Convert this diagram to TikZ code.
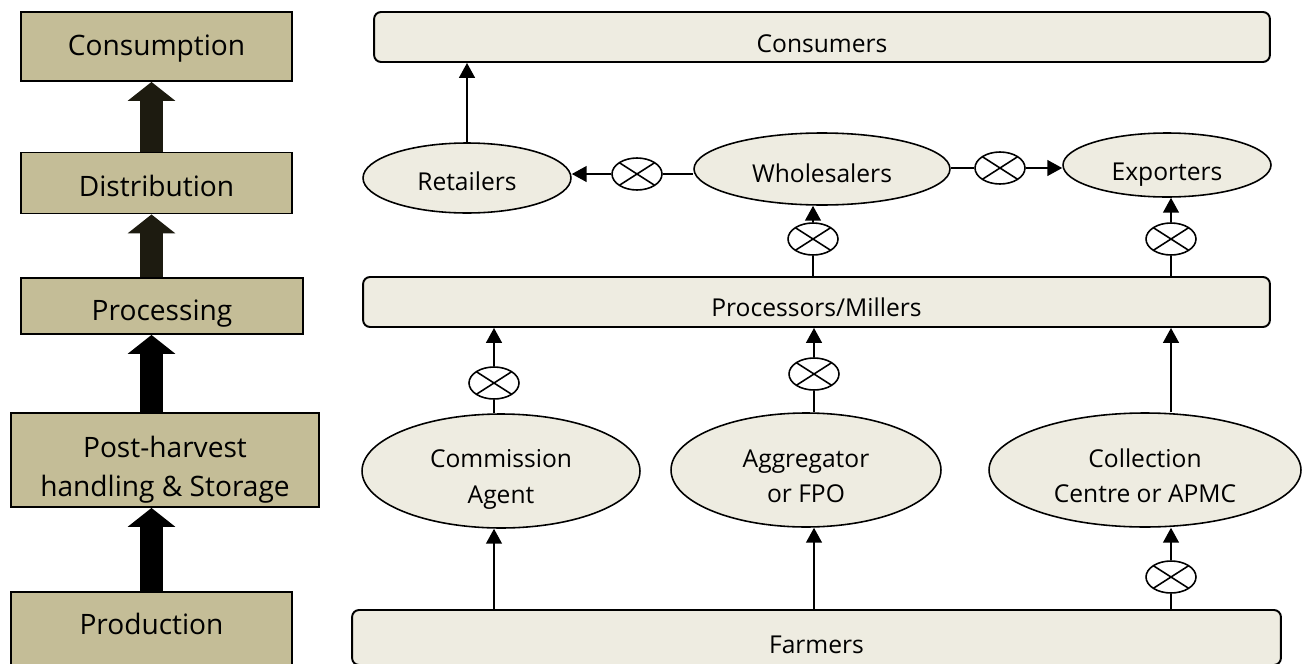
\documentclass[tikz,border=0pt]{standalone}
\usepackage{fontspec}
\setmainfont{Open Sans}
\usetikzlibrary{arrows.meta,shapes.geometric}

\definecolor{tan}{HTML}{C4BD97}
\definecolor{pale}{HTML}{EEECE1}
\definecolor{darkarr}{HTML}{1D1B10}

% две строки, опорная линия по нижней
\newcommand{\twoln}[2]{\begin{tabular}[b]{@{}c@{}}#1\\#2\end{tabular}}

\tikzset{
    stage/.style={draw, line width=1.1pt, fill=tan, inner sep=0pt,
        font=\fontsize{16}{22.7}\selectfont},
    bar/.style={draw, line width=1.1pt, fill=pale, rounded corners=0.14cm, inner sep=0pt,
        text depth=0pt, font=\fontsize{14}{20}\selectfont},
    actor/.style={ellipse, draw, line width=0.9pt, fill=pale, inner sep=0pt,
        text depth=0pt, font=\fontsize{14}{20}\selectfont},
    mixer/.style={ellipse, draw, line width=0.9pt, fill=white, inner sep=0pt,
        minimum width=1cm, minimum height=0.64cm,
        path picture={\draw[line width=0.9pt]
            (path picture bounding box.north west) -- (path picture bounding box.south east)
            (path picture bounding box.north east) -- (path picture bounding box.south west);}},
    link/.style={line width=1.1pt},
    arr/.style={line width=1.1pt, -{Triangle[width=9pt,length=8.5pt]}},
    blockarr/.style={line width=0.46cm, -{Triangle[width=0.96cm,length=0.38cm,line width=0pt]}},
}

\begin{document}
\begin{tikzpicture}[x=0.02cm, y=-0.02cm]
    % рамка картинки (в пикселях)
    \useasboundingbox (0,0) rectangle (1302,663);

    % этапы слева
    \node[stage, minimum width=5.42cm, minimum height=1.38cm, text height=0.36cm, text depth=0pt] (consm) at (156.5,46.5) {Consumption};
    \node[stage, minimum width=5.42cm, minimum height=1.22cm, text height=0.52cm, text depth=0pt] (dist) at (156.5,183) {Distribution};
    \node[stage, minimum width=5.64cm, minimum height=1.12cm, text height=0.56cm, text depth=0pt] (procg) at (162,306) {Processing};
    \node[stage, minimum width=6.16cm, minimum height=1.88cm, text height=1.48cm, text depth=0pt] (post) at (165,460) {\twoln{Post-harvest}{handling \& Storage}};
    \node[stage, minimum width=5.62cm, minimum height=1.52cm, text depth=0.23cm] (prod) at (151.5,630) {Production};

    % толстые стрелки
    \draw[blockarr, black] (prod.north) -- (prod.north |- post.south);
    \draw[blockarr, black] (prod.north |- post.north) -- (prod.north |- procg.south);
    \draw[blockarr, darkarr] (prod.north |- procg.north) -- (prod.north |- dist.south);
    \draw[blockarr, darkarr] (prod.north |- dist.north) -- (prod.north |- consm.south);

    % участники цепочки
    \node[bar, minimum width=17.92cm, minimum height=1cm, text height=0.64cm] (cons) at (822,37) {Consumers};
    \node[actor, minimum width=4.16cm, minimum height=1.4cm, text height=0.48cm] (ret) at (467,178) {Retailers};
    \node[actor, minimum width=5.12cm, minimum height=1.44cm, text height=0.52cm] (wh) at (822,169) {Wholesalers};
    \node[actor, minimum width=4.16cm, minimum height=1.28cm, text height=0.6cm] (exp) at (1167,165) {Exporters};
    \node[bar, minimum width=18.14cm, minimum height=1cm, text height=0.56cm] (proc) at (816.5,302) {Processors/Millers};
    \node[actor, minimum width=5.56cm, minimum height=2.28cm, text height=1.28cm] (ca) at (501,471) {\twoln{Commission}{Agent}};
    \node[actor, minimum width=5.4cm, minimum height=2.28cm, text height=1.3cm] (agg) at (806,470) {\twoln{Aggregator}{or FPO}};
    \node[actor, minimum width=6.24cm, minimum height=2.28cm, text height=1.3cm] (col) at (1145,470) {\twoln{Collection}{Centre or APMC}};
    \node[bar, minimum width=18.58cm, minimum height=1.1cm, text height=0.62cm] (farm) at (816.5,637.5) {Farmers};

    % узлы-посредники
    \node[mixer] (m1) at (637,174) {};
    \node[mixer] (m2) at (1000,168) {};
    \node[mixer] (m3) at (813,239) {};
    \node[mixer] (m4) at (1171,239) {};
    \node[mixer] (m5) at (494,383) {};
    \node[mixer] (m6) at (814,374) {};
    \node[mixer] (m7) at (1171,577) {};

    % связи
    \draw[arr] (ret.north) -- (ret.north |- cons.south);
    \draw[link] (m1) -- (m1 -| wh.west);
    \draw[arr] (m1) -- (m1 -| ret.east);
    \draw[link] (m2) -- (m2 -| wh.east);
    \draw[arr] (m2) -- (m2 -| exp.west);
    \draw[link] (m3) -- (m3 |- proc.north);
    \draw[arr] (m3) -- (m3 |- wh.south);
    \draw[link] (m4) -- (m4 |- proc.north);
    \draw[arr] (m4) -- (m4 |- exp.south);
    \draw[link] (m5) -- (m5 |- ca.north);
    \draw[arr] (m5) -- (m5 |- proc.south);
    \draw[link] (m6) -- (m6 |- agg.north);
    \draw[arr] (m6) -- (m6 |- proc.south);
    \draw[arr] (m7 |- col.north) -- (m7 |- proc.south);
    \draw[arr] (m5 |- farm.north) -- (m5 |- ca.south);
    \draw[arr] (m6 |- farm.north) -- (m6 |- agg.south);
    \draw[link] (m7) -- (m7 |- farm.north);
    \draw[arr] (m7) -- (m7 |- col.south);
\end{tikzpicture}
\end{document}
